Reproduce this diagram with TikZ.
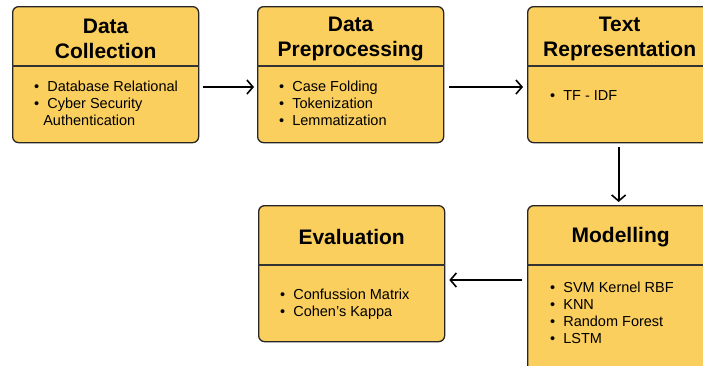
\documentclass[tikz,border=0pt]{standalone}
\usepackage{fontspec}
\setmainfont{Liberation Sans}
\usetikzlibrary{arrows.meta,positioning,calc}
\definecolor{boxfill}{RGB}{251,207,94}

\begin{document}
\begin{tikzpicture}[
  x=1pt, y=-1pt,
  font=\fontsize{14.5}{17}\selectfont,
  stagebox/.style={
    draw=black!85,
    fill=boxfill,
    rounded corners=6pt,
    line width=1.3pt,
    minimum width=186pt,
    minimum height=136pt,
    inner sep=0pt,
    anchor=north west
  },
  title/.style={font=\bfseries\fontsize{21}{25}\selectfont, align=center, inner sep=0pt},
  items/.style={align=left, anchor=north west, inner sep=0pt},
  divider/.style={line width=1.1pt, draw=black!80},
  arrow/.style={-{Straight Barb[length=6pt,width=14pt,line width=1.6pt]}, line width=1.8pt}
]
\clip (0,0) rectangle (703,365);

% Top row, left to right.
\node[stagebox] (coll) at (12,6)  {};
\node[stagebox] (prep) at (257,6) {};
\node[stagebox] (repr) at (527,6) {};

% Bottom row, right to left.
\node[stagebox, minimum height=175pt] (model) at (527,205) {};
\node[stagebox] (eval) at (258,205) {};

% Header dividers.
\foreach \b in {coll,prep,repr,model,eval}
  \draw[divider] ($(\b.north west)+(0,60)$) -- ($(\b.north east)+(0,60)$);

% Titles.
\node[title] (colltitle)  at ($(coll.north)+(0,33)$) {Data\\Collection};
\node[title] (preptitle)  at ($(prep.north)+(0,33)$) {Data\\Preprocessing};
\node[title] (reprtitle)  at ($(repr.north)+(-1,33)$) {Text\\Representation};
\node[title] (modeltitle) at ($(model.north)+(0,32)$) {Modelling};
\node[title] (evaltitle)  at ($(eval.north)+(0,32)$) {Evaluation};

% Item lists.
\node[items] (collitems) at ($(coll.north west)+(22,75)$)
  {\textbullet\ \ Database Relational\\\textbullet\ \ Cyber Security\\\hphantom{\textbullet\ }Authentication};
\node[items] (prepitems) at ($(prep.north west)+(22,75)$)
  {\textbullet\ \ Case Folding\\\textbullet\ \ Tokenization\\\textbullet\ \ Lemmatization};
\node[items] (repritems) at ($(repr.north west)+(23,84)$)
  {\textbullet\ \ TF - IDF};
\node[items] (modelitems) at ($(model.north west)+(23,77)$)
  {\textbullet\ \ SVM Kernel RBF\\\textbullet\ \ KNN\\\textbullet\ \ Random Forest\\\textbullet\ \ LSTM};
\node[items] (evalitems) at ($(eval.north west)+(22,84)$)
  {\textbullet\ \ Confussion Matrix\\\textbullet\ \ Cohen’s Kappa};

% Connectors.
\draw[arrow] ($(coll.north east)+(4,81)$) -- ($(prep.north west)+(-3,81)$);
\draw[arrow] ($(prep.north east)+(5,81)$) -- ($(repr.north west)+(-4,81)$);
\draw[arrow] ($(repr.south)+(-2,4)$) -- ($(model.north)+(-2,-3)$);
\draw[arrow] ($(model.north west)+(-5,75)$) -- ($(eval.north east)+(4,75)$);

\end{tikzpicture}
\end{document}
